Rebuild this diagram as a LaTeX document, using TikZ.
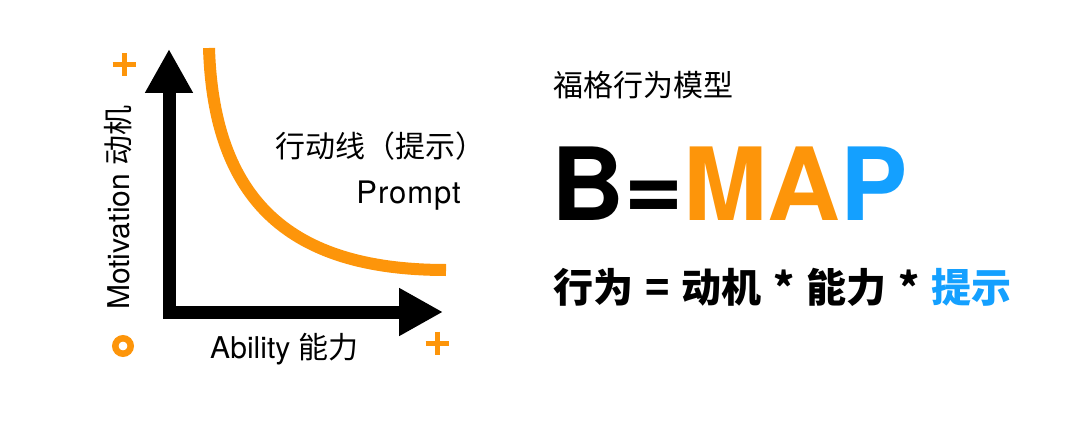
\documentclass[tikz,border=0pt]{standalone}
\usepackage{fontspec}
\setmainfont{TeX Gyre Heros}
\newfontfamily\cjk{Noto Sans CJK SC}
\usetikzlibrary{arrows.meta}
\definecolor{mapor}{HTML}{FD950A}
\definecolor{mapbl}{HTML}{14A0FF}
\tikzset{
  axis/.style={line width=13pt,
               {Triangle[length=44pt,width=45pt]}-{Triangle[length=44pt,width=45pt]}},
  prompt/.style={draw=mapor,line width=12pt},
  sign/.style={draw=mapor,line width=5pt},
  lbl/.style={inner sep=0pt,font=\fontsize{30}{36}\selectfont},
  every picture/.style={line join=miter}}
\newcommand\gap{\hspace{12pt}}

\begin{document}
\begin{tikzpicture}[x=1pt,y=-1pt]
  \useasboundingbox (0,0) rectangle (1080,444);
  \coordinate (o) at (169,312); \coordinate (ytip) at (169,49);
  \coordinate (xtip) at (443,312);
  \draw[axis] (ytip) -- (o) -- (xtip);
  \coordinate (c0) at (209,48); \coordinate (c1) at (446,270);
  \draw[prompt] (c0) .. controls (214,210) and (300,270) .. (c1);
  \foreach \x/\y in {124/65,437/343}
    \draw[sign] (\x-11.5,\y) -- (\x+11.5,\y) (\x,\y-11.5) -- (\x,\y+11.5);
  \draw[sign,line width=6.5pt] (123,346) circle[radius=7.7pt];
  \node[lbl,rotate=90,anchor=base west] (mot) at (129,310) {Motivation {\cjk 动机}};
  \node[lbl,anchor=base west] (abl) at (210,358) {Ability {\cjk 能力}};
  \node[lbl,anchor=west] (act) at (275,146) {\cjk 行动线（提示）};
  \node[lbl,anchor=base east] (prm) at (461,203)
    {\addfontfeature{LetterSpace=3}\fontsize{31}{36}\selectfont Prompt};
  \node[lbl,anchor=west] (ttl) at (553,85) {\cjk 福格行为模型};
  \node[inner sep=0pt,anchor=base west,font=\fontsize{101}{110}\selectfont\bfseries]
    (bmap) at (551,220) {B=\textcolor{mapor}{MA}\textcolor{mapbl}{P}};
  \node[inner sep=0pt,anchor=west,font=\cjk\fontsize{40}{48}\selectfont\bfseries]
    (eq) at (553,287) {行为\gap{}=\gap{}动机\gap{}*\gap{}能力\gap{}*\gap{}\textcolor{mapbl}{提示}};
\end{tikzpicture}
\end{document}
